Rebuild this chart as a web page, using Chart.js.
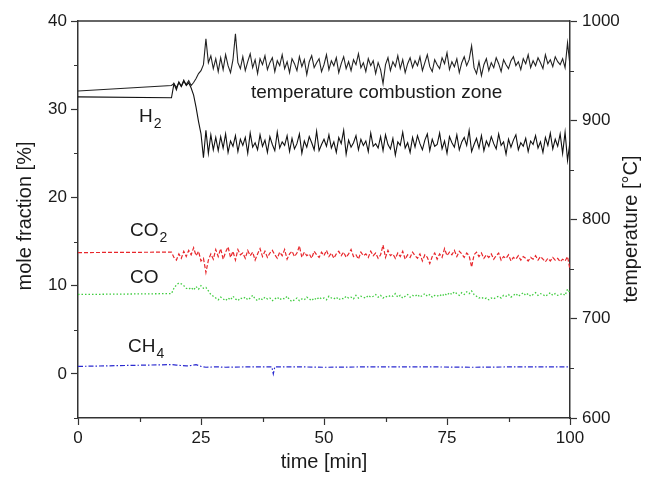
<!DOCTYPE html>
<html><head><meta charset="utf-8">
<script src="https://cdn.jsdelivr.net/npm/chart.js@4.4.1/dist/chart.umd.min.js"></script>
<style>html,body{margin:0;padding:0;background:#fff;overflow:hidden}</style>
</head><body>
<canvas id="c" width="651" height="477"></canvas>
<script>
// ---- data ----
const gridStart = 19;      // min, first sample of the recorded series
const gridStep = 0.5;      // min between samples
const startTime = 0;

const h2Start = 31.4;
const h2 = [31.3, 32.9, 32.2, 33.1, 32.6, 33.3, 32.7, 33.0, 32.4, 31.6, 30.2, 28.6, 27.2, 24.5, 27.6, 25.0, 27.1, 25.4, 26.8,
25.3, 26.9, 25.6, 27.2, 25.1, 26.4, 25.8, 27.0, 25.2, 26.6,
25.9, 26.8, 25.0, 27.3, 25.7, 26.2, 25.4, 27.1, 25.8, 26.5,
25.1, 26.9, 26.0, 25.3, 27.4, 25.6, 26.3, 25.9, 27.0, 25.2,
26.7, 25.5, 26.1, 27.2, 25.0, 26.4, 25.7, 26.9, 26.2, 25.4,
27.5, 25.3, 26.0, 26.6, 25.8, 27.1, 25.6, 26.3, 25.1, 26.8,
26.1, 27.6, 24.9, 26.5, 25.7, 26.2, 27.0, 25.4, 26.6, 25.9,
26.4, 25.2, 27.3, 25.8, 26.1, 25.6, 26.9, 25.3, 27.1, 26.0,
25.5, 26.7, 24.8, 26.3, 25.9, 27.4, 25.6, 26.2, 25.1, 26.8,
25.7, 27.0, 26.1, 25.4, 26.5, 27.2, 25.3, 26.6, 25.8, 26.0,
27.3, 25.5, 26.4, 25.0, 26.9, 26.2, 25.7, 27.1, 25.4, 26.3,
26.8, 25.9, 27.6, 25.2, 26.0, 26.7, 25.6, 27.0, 25.3, 26.4,
25.8, 26.9, 26.1, 25.5, 27.2, 25.9, 26.3, 24.9, 26.6, 25.7,
26.5, 27.1, 25.4, 26.2, 25.8, 26.7, 25.2, 26.4, 26.0, 27.0,
25.6, 26.3, 25.1, 26.8, 25.9, 27.3, 25.5, 26.6, 25.8, 27.2,
25.0, 27.4, 24.2, 26.3];

const tempStart = 929.5;
const temperature = [935, 937, 933, 938, 934, 939, 936, 940, 935, 938, 942, 947, 950, 956, 982, 958, 965, 952, 962,
949, 963, 951, 966, 955, 948, 961, 987, 958, 952,
964, 950, 959, 967, 953, 961, 947, 962, 956, 965,
951, 958, 963, 949, 960, 955, 966, 952, 959, 948,
962, 957, 950, 964, 954, 961, 946, 959, 965, 953,
958, 962, 949, 956, 966, 951, 960, 955, 963, 948,
957, 964, 952, 959, 950, 961, 956, 967, 953, 958,
949, 962, 955, 960, 947, 958, 951, 937, 956, 963,
950, 959, 954, 965, 952, 961, 948, 957, 963, 953,
960, 955, 964, 950, 958, 966, 954, 949, 961, 956,
952, 963, 957, 968, 951, 959, 954, 962, 948, 958,
964, 955, 961, 975, 953, 947, 959, 945, 956, 962,
950, 958, 953, 963, 957, 949, 961, 956, 952, 960,
964, 955, 959, 951, 962, 957, 966, 953, 960, 955,
963, 958, 952, 966, 957, 961, 954, 964, 959, 956,
962, 953, 978, 955];

const co2Start = 13.75;
const co2 = [13.8, 13.2, 12.9, 13.6, 13.1, 13.9, 13.3, 14.0, 13.5, 14.3, 13.4, 13.9, 12.8, 13.1, 11.5, 12.9, 13.6, 13.0, 14.1,
13.3, 14.2, 13.0, 13.8, 14.4, 13.2, 13.9, 12.9, 14.1, 13.5,
13.7, 13.1, 14.0, 13.4, 13.8, 12.9, 13.6, 14.2, 13.3, 13.9,
13.2, 13.7, 14.0, 13.5, 13.1, 13.8, 13.4, 14.1, 13.0, 13.6,
13.9, 13.3, 13.7, 14.5, 13.2, 13.8, 13.4, 13.6, 13.1, 13.9,
13.5, 13.2, 13.8, 13.4, 14.0, 13.3, 13.7, 13.1, 13.6, 13.9,
13.4, 13.8, 13.2, 13.6, 14.1, 13.3, 13.5, 13.0, 13.8, 13.4,
13.6, 13.2, 13.9, 13.4, 13.7, 13.1, 13.5, 14.6, 13.2, 14.0,
13.4, 13.6, 13.1, 13.7, 13.3, 13.9, 13.0, 13.5, 13.2, 13.8,
13.4, 13.1, 13.6, 12.8, 13.5, 13.2, 12.5, 13.3, 13.7, 13.0,
13.6, 13.2, 14.2, 13.4, 13.8, 13.5, 14.0, 13.3, 13.9, 13.6,
13.2, 13.7, 13.4, 12.1, 13.5, 13.8, 13.3, 13.7, 13.1, 13.5,
13.2, 13.6, 13.0, 13.4, 13.7, 12.9, 13.3, 13.1, 13.5, 12.8,
13.2, 13.0, 13.4, 12.9, 13.3, 13.1, 12.8, 13.2, 13.0, 13.4,
12.9, 13.3, 13.0, 12.7, 13.1, 12.8, 13.2, 12.9, 13.1, 12.7,
13.0, 12.8, 13.3, 11.8];

const coStart = 9.0;
const co = [9.1, 9.7, 10.1, 10.3, 10.2, 10.0, 9.7, 9.6, 9.8, 9.5, 9.9, 9.6, 10.0, 9.7, 9.8, 9.4, 9.0, 8.8, 8.6,
8.4, 8.7, 8.5, 8.3, 8.6, 8.4, 8.8, 8.5, 8.3, 8.6,
8.5, 8.7, 8.4, 8.6, 8.9, 8.5, 8.3, 8.6, 8.4, 8.7,
8.5, 8.6, 8.3, 8.5, 8.7, 8.4, 8.6, 8.5, 8.8, 8.4,
8.2, 8.4, 8.6, 8.3, 8.5, 8.4, 8.7, 8.5, 8.3, 8.6,
8.4, 8.7, 8.5, 8.6, 8.4, 8.8, 8.6, 8.5, 8.7, 8.4,
8.6, 8.5, 8.8, 8.6, 8.7, 8.5, 8.9, 8.6, 8.8, 8.7,
8.6, 8.9, 8.7, 8.8, 9.0, 8.7, 8.9, 8.6, 8.8, 8.7,
8.9, 8.8, 9.1, 8.7, 8.9, 8.6, 8.8, 9.0, 8.7, 8.9,
8.8, 9.0, 8.7, 8.9, 9.1, 8.8, 9.0, 8.7, 8.9, 8.8,
9.0, 8.8, 9.1, 8.9, 9.2, 9.0, 9.3, 9.1, 8.9, 9.2,
9.0, 9.3, 9.1, 9.4, 9.0, 8.8, 8.6, 8.7, 8.5, 8.6,
8.4, 8.6, 8.5, 8.7, 8.8, 8.6, 8.9, 8.8, 9.0, 8.7,
8.9, 9.1, 8.8, 9.0, 9.2, 8.9, 9.1, 8.8, 9.0, 9.2,
8.9, 9.1, 9.0, 8.8, 9.0, 9.2, 8.9, 9.1, 8.9, 9.0,
9.1, 8.9, 9.6, 9.2];

const ch4Time = [0, 19, 20, 21, 22, 23, 24, 25, 26, 28, 30, 35, 39.4, 39.7, 40.0, 45, 50, 60, 70, 80, 90, 100];
const ch4 = [0.85, 1.05, 1.0, 0.95, 0.9, 0.95, 1.05, 0.85, 0.75, 0.8, 0.75, 0.8, 0.8, 0.0, 0.8, 0.8, 0.75, 0.8, 0.8, 0.75, 0.8, 0.8];

const xMajor = [0, 25, 50, 75, 100];
const xMinor = [12.5, 37.5, 62.5, 87.5];
const yMinor = [-5, 5, 15, 25, 35];
const y1Minor = [650, 750, 850, 950];

// ---- build ----
function series(startVal, vals) {
  const pts = [{x: startTime, y: startVal}];
  vals.forEach((v, i) => pts.push({x: gridStart + i * gridStep, y: v}));
  return pts;
}
const FONT = '"Liberation Sans", Arial, Helvetica, sans-serif';
const axisColor = '#333';
const textColor = '#1a1a1a';

const extras = {
  id: 'extras',
  afterDraw(chart) {
    const ctx = chart.ctx, a = chart.chartArea;
    const sx = chart.scales.x, sy = chart.scales.y, sy1 = chart.scales.y1;
    ctx.save();
    ctx.strokeStyle = axisColor;
    ctx.lineWidth = 1.5;
    ctx.beginPath(); ctx.moveTo(a.left, a.top); ctx.lineTo(a.right, a.top); ctx.stroke();
    ctx.lineWidth = 1.2;
    ctx.beginPath();
    xMinor.forEach(v => { const p = Math.round(sx.getPixelForValue(v)) + 0.5; ctx.moveTo(p, a.bottom); ctx.lineTo(p, a.bottom + 4); });
    yMinor.forEach(v => { const p = Math.round(sy.getPixelForValue(v)) + 0.5; ctx.moveTo(a.left, p); ctx.lineTo(a.left - 4, p); });
    y1Minor.forEach(v => { const p = Math.round(sy1.getPixelForValue(v)) + 0.5; ctx.moveTo(a.right, p); ctx.lineTo(a.right + 4, p); });
    ctx.stroke();

    ctx.fillStyle = textColor;
    // axis titles
    ctx.font = '20px ' + FONT;
    ctx.textAlign = 'center'; ctx.textBaseline = 'middle';
    ctx.fillText('time [min]', (a.left + a.right) / 2, 462);
    ctx.save(); ctx.translate(25, 216); ctx.rotate(-Math.PI / 2); ctx.fillText('mole fraction [%]', 0, 0); ctx.restore();
    ctx.save(); ctx.translate(631, 229); ctx.rotate(-Math.PI / 2); ctx.fillText('temperature [°C]', 0, 0); ctx.restore();

    // annotations
    ctx.textAlign = 'left'; ctx.textBaseline = 'alphabetic';
    const lab = (main, sub, x, y) => {
      ctx.font = '19px ' + FONT;
      ctx.fillText(main, x, y);
      if (sub) {
        const w = ctx.measureText(main).width;
        ctx.font = '14px ' + FONT;
        ctx.fillText(sub, x + w + 1, y + 6);
      }
    };
    lab('temperature combustion zone', '', 251, 98);
    lab('H', '2', 139, 122);
    lab('CO', '2', 130, 236);
    lab('CO', '', 130, 283);
    lab('CH', '4', 128, 352);
    ctx.restore();
  }
};

const tickFont = {family: FONT, size: 17};
const plain = v => String(v);

new Chart(document.getElementById('c'), {
  type: 'line',
  data: {
    datasets: [
      {label: 'H2', data: series(h2Start, h2), borderColor: '#111', borderWidth: 1.1, yAxisID: 'y'},
      {label: 'temperature', data: series(tempStart, temperature), borderColor: '#222', borderWidth: 1.1, yAxisID: 'y1'},
      {label: 'CO2', data: series(co2Start, co2), borderColor: '#e8262b', borderWidth: 1.2, borderDash: [4, 2], yAxisID: 'y'},
      {label: 'CO', data: series(coStart, co), borderColor: '#3fcc3f', borderWidth: 1.3, borderDash: [1.5, 2], yAxisID: 'y'},
      {label: 'CH4', data: ch4Time.map((t, i) => ({x: t, y: ch4[i]})), borderColor: '#2a2ad0', borderWidth: 1.2, borderDash: [5, 2, 1.5, 2], yAxisID: 'y'}
    ]
  },
  options: {
    responsive: false,
    animation: false,
    layout: {padding: {top: 21, left: 0, right: 0, bottom: 0}},
    plugins: {legend: {display: false}, tooltip: {enabled: false}},
    elements: {point: {radius: 0}, line: {tension: 0, borderWidth: 1, fill: false}},
    scales: {
      x: {
        type: 'linear', min: 0, max: 100,
        afterBuildTicks: s => { s.ticks = xMajor.map(v => ({value: v})); },
        ticks: {font: tickFont, color: textColor, padding: 3, maxRotation: 0, autoSkip: false, callback: plain},
        grid: {drawOnChartArea: false, tickLength: 7, color: axisColor, tickWidth: 1.2},
        border: {color: axisColor, width: 1.5},
        afterFit: s => { s.height = 59; }
      },
      y: {
        position: 'left', min: -5, max: 40,
        ticks: {stepSize: 10, includeBounds: false, font: tickFont, color: textColor, padding: 4, callback: plain},
        grid: {drawOnChartArea: false, tickLength: 7, color: axisColor, tickWidth: 1.2},
        border: {color: axisColor, width: 1.5},
        afterFit: s => { s.width = 78; }
      },
      y1: {
        position: 'right', min: 600, max: 1000,
        ticks: {stepSize: 100, font: tickFont, color: textColor, padding: 5, callback: plain},
        grid: {drawOnChartArea: false, tickLength: 7, color: axisColor, tickWidth: 1.2},
        border: {color: axisColor, width: 1.5},
        afterFit: s => { s.width = 81; }
      }
    }
  },
  plugins: [extras]
});
</script>
</body></html>
